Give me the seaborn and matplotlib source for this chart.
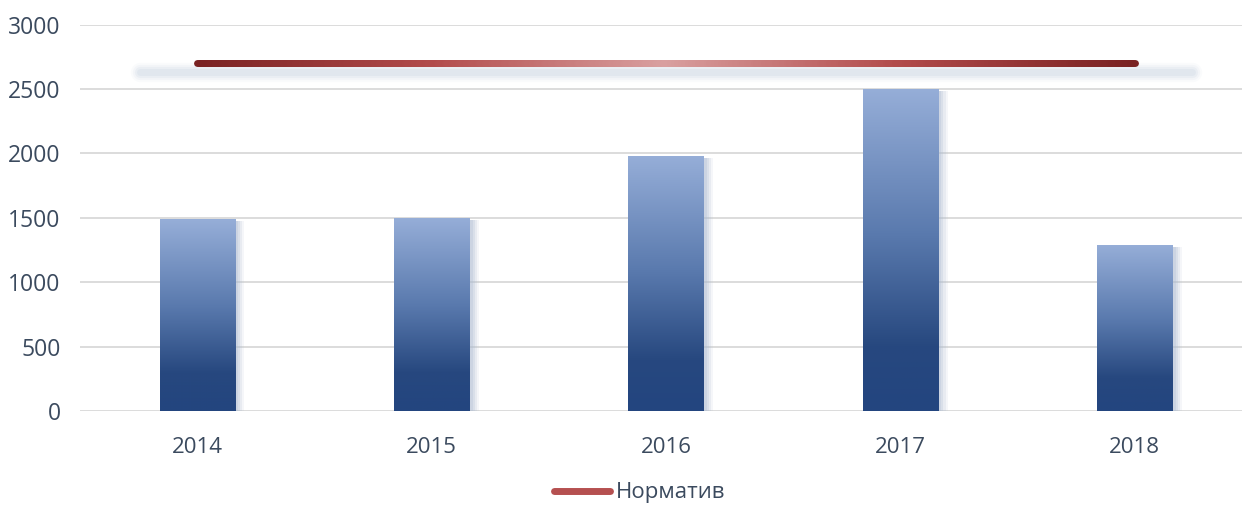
import numpy as np
import pandas as pd
import matplotlib
matplotlib.use("Agg")
import matplotlib.pyplot as plt
import seaborn as sns
from matplotlib.colors import LinearSegmentedColormap
from matplotlib.collections import LineCollection
from matplotlib.lines import Line2D
from matplotlib import patheffects as pe

# данные
years = ["2014", "2015", "2016", "2017", "2018"]
values = [1490, 1500, 1980, 2500, 1290]
norm_values = [2700, 2700, 2700, 2700, 2700]
legend_label = "Норматив"

df = pd.DataFrame({"year": years, "value": values, "norm": norm_values})

sns.set_theme(style="white")
plt.rcParams["font.family"] = ["Open Sans", "DejaVu Sans"]
text_col = "#3b4a5e"

fig = plt.figure(figsize=(12.42, 5.07), dpi=100)
ax = fig.add_axes([80 / 1242, 96 / 507, 1172 / 1242, 386.5 / 507])

# столбцы
sns.barplot(data=df, x="year", y="value", width=0.32, color="#4a6ba0", ax=ax, zorder=3)

bar_cmap = LinearSegmentedColormap.from_list(
    "bars", [(0.0, "#23457f"), (0.2, "#27487f"), (0.55, "#5a7aae"), (1.0, "#96aed8")])
grad = np.linspace(0, 1, 256).reshape(-1, 1)

shadow = [pe.SimplePatchShadow(offset=(o, -1.5), shadow_rgbFace="#aebcd2", alpha=a)
          for o, a in [(7, 0.12), (5.5, 0.18), (4, 0.25), (2.5, 0.3)]]
for p in ax.patches:
    x0, w, h = p.get_x(), p.get_width(), p.get_height()
    p.set_facecolor("none")
    p.set_edgecolor("none")
    p.set_path_effects(shadow)
    im = ax.imshow(grad, cmap=bar_cmap, origin="lower", aspect="auto",
                   extent=[x0, x0 + w, 0, h], zorder=4)
    im.set_clip_path(p)

# линия норматива
sns.lineplot(data=df, x="year", y="norm", ax=ax, sort=False, zorder=5)
base = ax.lines[-1]
lx, ly = base.get_xdata().astype(float), base.get_ydata().astype(float)
base.set_visible(False)

# размытая тень под линией
sx = np.array([lx.min() - 0.245, lx.max() + 0.245])
sy = np.array([ly[0] - 66, ly[-1] - 66])
for lw, a in [(14, 0.08), (11, 0.12), (8, 0.18), (5, 0.22)]:
    ax.plot(sx, sy, color="#c3cfe0", lw=lw, alpha=a, solid_capstyle="round", zorder=2)

xs = np.linspace(lx.min(), lx.max(), 400)
ys = np.interp(xs, lx, ly)
pts = np.column_stack([xs, ys]).reshape(-1, 1, 2)
segs = np.concatenate([pts[:-1], pts[1:]], axis=1)
line_cmap = LinearSegmentedColormap.from_list(
    "norm", ["#7a2222", "#b24b4b", "#d9a0a0", "#b24b4b", "#7a2222"])
lc = LineCollection(segs, cmap=line_cmap, linewidths=5, capstyle="round", zorder=6)
lc.set_array(np.linspace(0, 1, len(segs)))
ax.add_collection(lc)

# оси
ax.set_xlim(-0.5, 4.5)
ax.set_ylim(0, 3000)
ax.set_yticks(range(0, 3001, 500))
ax.grid(axis="y", color="#d9d9d9", lw=1.3)
ax.set_axisbelow(True)
sns.despine(ax=ax, left=True, bottom=True)
ax.tick_params(axis="both", length=0, colors=text_col)
ax.tick_params(axis="y", pad=14, labelsize=16.5)
ax.tick_params(axis="x", pad=19, labelsize=16)
ax.set_xlabel("")
ax.set_ylabel("")

handle = Line2D([], [], color="#b55050", lw=5, solid_capstyle="round")
fig.legend(handles=[handle], labels=[legend_label], loc="center",
           bbox_to_anchor=(0.515, 0.028), frameon=False, fontsize=16,
           handlelength=2.5, handletextpad=0.25, labelcolor=text_col)

plt.savefig("out.png", dpi=100)
